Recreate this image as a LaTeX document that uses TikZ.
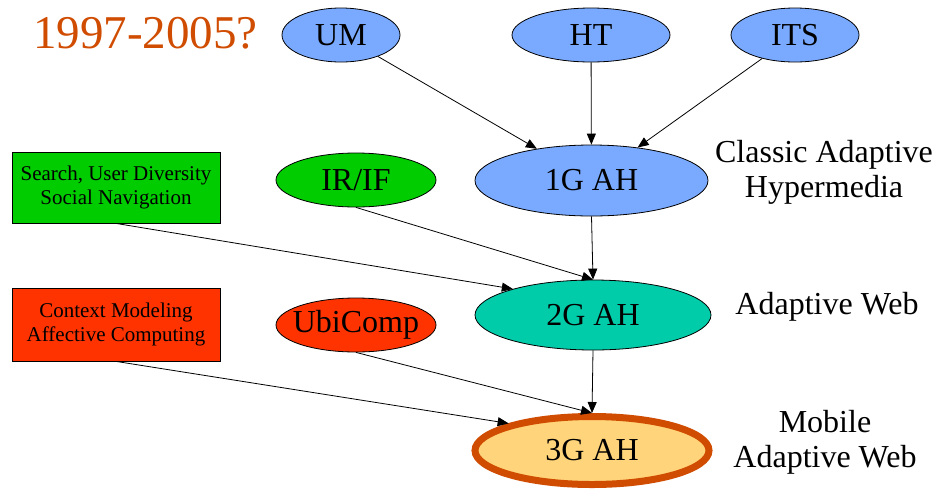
\documentclass[tikz,border=0pt]{standalone}
\usepackage{fontspec}
\setmainfont{Liberation Serif}
\usetikzlibrary{shapes.geometric,arrows.meta}
\definecolor{ahblue}{RGB}{122,170,255}
\definecolor{ahgreen}{RGB}{0,204,0}
\definecolor{ahteal}{RGB}{0,204,170}
\definecolor{ahred}{RGB}{255,51,0}
\definecolor{ahgold}{RGB}{255,212,122}
\definecolor{ahorange}{RGB}{208,76,0}
% label of zero width, so the ellipse keeps its given size
\newcommand\ovaltxt[1]{\makebox[0pt][c]{#1}}
\tikzset{
  oval/.style={ellipse, draw=black, line width=0.8pt, inner sep=0pt,
    font=\fontsize{32}{32}\selectfont},
  topic/.style={rectangle, draw=black, line width=0.8pt, inner sep=0pt,
    align=center, minimum width=208pt, font=\fontsize{21}{24}\selectfont},
  era/.style={align=center, font=\fontsize{32}{35}\selectfont},
  arr/.style={line width=0.8pt, -{Triangle[length=11pt,width=9pt]}}
}
\begin{document}
\begin{tikzpicture}[x=1pt,y=-1pt]
\useasboundingbox (0,0) rectangle (937,491);
\fill[white] (0,0) rectangle (937,491);

% period label
\node[anchor=base west, inner sep=0pt, text=ahorange,
  font=\fontsize{47}{47}\selectfont] (period) at (33,48) {1997-2005?};

% source fields
\node[oval, fill=ahblue, minimum width=118pt, minimum height=54pt] (um) at (341,35) {\ovaltxt{UM}};
\node[oval, fill=ahblue, minimum width=158pt, minimum height=54pt] (ht) at (591,35) {\ovaltxt{HT}};
\node[oval, fill=ahblue, minimum width=128pt, minimum height=54pt] (its) at (795,35) {\ovaltxt{ITS}};

% generations of adaptive hypermedia
\node[oval, fill=ahblue, minimum width=233pt, minimum height=71pt] (g1) at (591.5,180.5) {\ovaltxt{1G AH}};
\node[oval, fill=ahteal, minimum width=236pt, minimum height=70pt] (g2) at (593,315) {\ovaltxt{2G AH}};
\node[oval, fill=ahgold, draw=ahorange, line width=7pt,
  minimum width=234pt, minimum height=68pt] (g3) at (592,450.5) {\ovaltxt{3G AH}};

% contributing areas
\node[oval, fill=ahgreen, minimum width=160pt, minimum height=54pt] (irif) at (356,180) {\ovaltxt{IR/IF}};
\node[oval, fill=ahred, minimum width=160pt, minimum height=54pt] (ubi) at (356,325) {\ovaltxt{UbiComp}};
\node[topic, fill=ahgreen, minimum height=71pt] (search) at (116,187.5)
  {Search, User Diversity\\Social Navigation};
\node[topic, fill=ahred, minimum height=73pt] (context) at (116,324.5)
  {Context Modeling\\Affective Computing};

% era names
\node[era] (classic) at (824,172) {Classic Adaptive\\Hypermedia};
\node[era] (web) at (827,307) {Adaptive Web};
\node[era] (mobile) at (825,442) {Mobile\\Adaptive Web};

% influences
\draw[arr] (um) -- (g1);
\draw[arr] (ht) -- (g1);
\draw[arr] (its) -- (g1);
\draw[arr] (g1.south) -- (g2.north);
\draw[arr] (irif.south) -- (g2.north);
\draw[arr] (search.south) -- (g2.162);
\draw[arr] (g2.south) -- (g3.north);
\draw[arr] (ubi.south) -- (g3.north);
\draw[arr] (context.south) -- (g3.162);
\end{tikzpicture}
\end{document}
